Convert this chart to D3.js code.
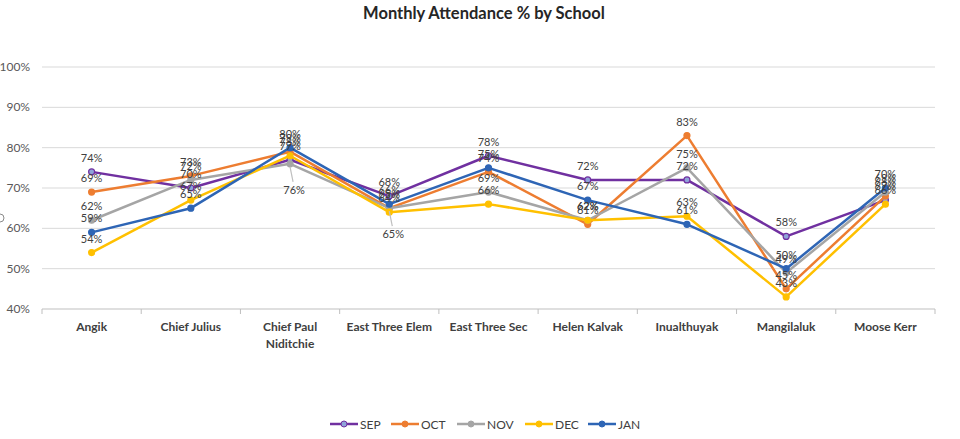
<!DOCTYPE html>
<html><head><meta charset="utf-8">
<script src="https://cdn.jsdelivr.net/npm/d3@7"></script>
<style>body{margin:0;background:#fff;}svg{display:block;font-family:Lato,"Open Sans",sans-serif;}</style>
</head><body><svg id="c" width="960" height="439"></svg>
<script>
const schools = ["Angik","Chief Julius","Chief Paul Niditchie","East Three Elem","East Three Sec","Helen Kalvak","Inualthuyak","Mangilaluk","Moose Kerr"];
const months = ["SEP","OCT","NOV","DEC","JAN"];
const sep = [74,70,77,68,78,72,72,58,67];
const oct = [69,73,79,65,74,61,83,45,68];
const nov = [62,72,76,65,69,62,75,49,69];
const dec = [54,67,78,64,66,62,63,43,66];
const jan = [59,65,80,66,75,67,61,50,70];
const yTicks = [40,50,60,70,80,90,100];
const colors = ["#7030A0","#ED7D31","#A5A5A5","#FFC000","#2E65B5"];
const series = [sep,oct,nov,dec,jan];
// labels drawn below their point (series index, school index), as in the reference
const belowLabels = [[2,2],[2,3]];

const svg = d3.select("#c");
const pL=42, pR=935, pT=67, pB=309;
const x = d3.scaleBand().domain(schools).range([pL,pR]);
const y = d3.scaleLinear().domain([40,100]).range([pB,pT]);

svg.append("text").attr("x",484).attr("y",19).attr("text-anchor","middle")
  .attr("font-size",16.5).attr("font-weight","bold").attr("fill","#262626")
  .text("Monthly Attendance % by School");

// grid
svg.append("g").selectAll("line").data(yTicks.slice(1)).join("line")
  .attr("x1",pL).attr("x2",pR).attr("y1",d=>y(d)).attr("y2",d=>y(d))
  .attr("stroke","#d9d9d9").attr("stroke-width",1);
svg.append("g").selectAll("text").data(yTicks).join("text")
  .attr("x",30).attr("y",d=>y(d)+4).attr("text-anchor","end")
  .attr("font-size",12).attr("fill","#595959").text(d=>d+"%");

// x axis
const xa = svg.append("g").attr("transform",`translate(0,${pB})`);
xa.append("line").attr("x1",pL).attr("x2",pR).attr("stroke","#bfbfbf");
const bounds = schools.map(s=>x(s)).concat([pR]);
xa.selectAll("line.tk").data(bounds).join("line").attr("class","tk")
  .attr("x1",d=>d).attr("x2",d=>d).attr("y1",0).attr("y2",5).attr("stroke","#bfbfbf");
const xl = svg.append("g");
schools.forEach(s=>{
  const cx = x(s)+x.bandwidth()/2;
  const words = s==="Chief Paul Niditchie" ? ["Chief Paul","Niditchie"] : [s];
  words.forEach((w,i)=>{
    xl.append("text").attr("x",cx).attr("y",331+i*17).attr("text-anchor","middle")
      .attr("font-size",12).attr("font-weight","bold").attr("fill","#404040").text(w);
  });
});

const cxf = s=>x(s)+x.bandwidth()/2;
const line = d3.line().x((d,i)=>cxf(schools[i])).y(d=>y(d));
series.forEach((vals,k)=>{
  const g = svg.append("g");
  g.append("path").datum(vals).attr("d",line).attr("fill","none")
    .attr("stroke",colors[k]).attr("stroke-width",2.5).attr("stroke-linejoin","round");
  g.selectAll("circle").data(vals).join("circle")
    .attr("cx",(d,i)=>cxf(schools[i])).attr("cy",d=>y(d)).attr("r",3)
    .attr("fill",k===0?"#8FA3D9":colors[k]).attr("stroke",colors[k]).attr("stroke-width",1.2);
});
const isBelow=(k,i)=>belowLabels.some(p=>p[0]===k&&p[1]===i);
series.forEach((vals,k)=>{
  const g = svg.append("g");
  vals.forEach((d,i)=>{
    const cx = cxf(schools[i]), cy = y(d);
    if(isBelow(k,i)){
      g.append("line").attr("x1",cx).attr("x2",cx+3).attr("y1",cy+3).attr("y2",cy+18)
        .attr("stroke","#bfbfbf").attr("stroke-width",1.2);
      g.append("text").attr("x",cx+4).attr("y",cy+30).attr("text-anchor","middle")
        .attr("font-size",11).attr("fill","#404040").text(d+"%");
    } else {
      g.append("text").attr("x",cx).attr("y",cy-10).attr("text-anchor","middle")
        .attr("font-size",11).attr("fill","#404040").text(d+"%");
    }
  });
});

// legend
const lg = svg.append("g");
const lx = [330,391,457,525,588];
months.forEach((m,k)=>{
  const g = lg.append("g").attr("transform",`translate(${lx[k]},424)`);
  g.append("line").attr("x1",0).attr("x2",28).attr("stroke",colors[k]).attr("stroke-width",2.5);
  g.append("circle").attr("cx",14).attr("r",3).attr("fill",k===0?"#8FA3D9":colors[k]).attr("stroke",colors[k]);
  g.append("text").attr("x",30).attr("y",4.5).attr("font-size",12).attr("fill","#404040").text(m);
});
svg.append("circle").attr("cx",0).attr("cy",218).attr("r",4).attr("fill","none").attr("stroke","#8a8a8a");
</script></body></html>
